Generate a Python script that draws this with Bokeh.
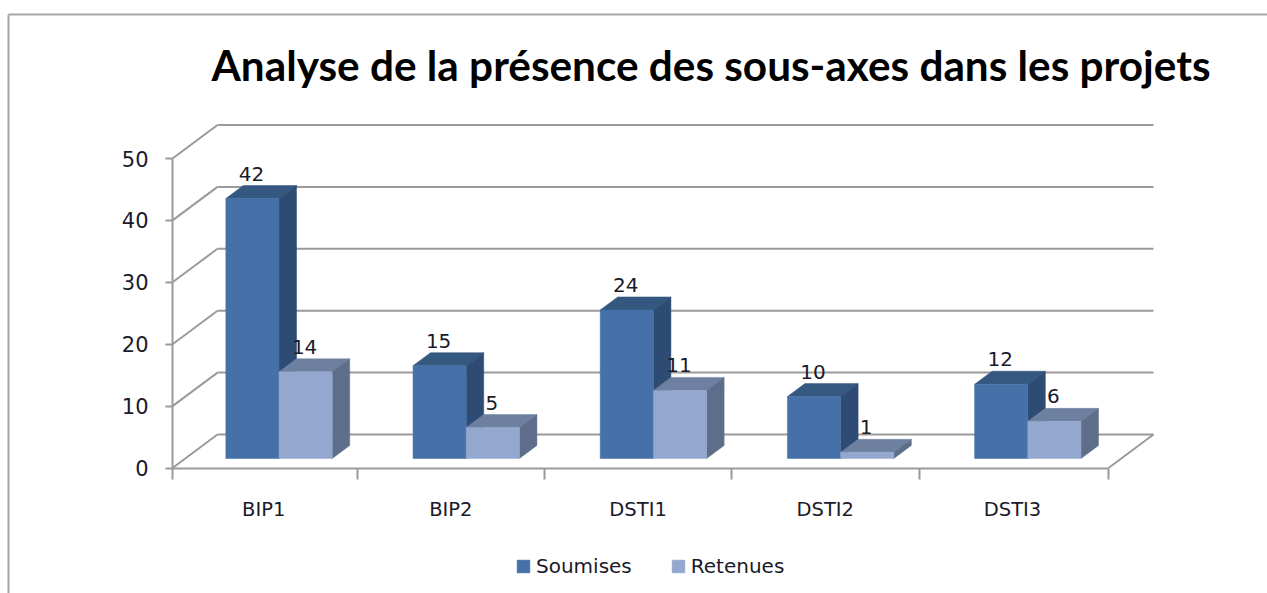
from bokeh.plotting import figure
from bokeh.models import (Range1d, LinearAxis, FixedTicker, Legend, LegendItem,
                          Label, ColumnDataSource)
from bokeh.embed import file_html
from bokeh.resources import INLINE

# ---- data ----
title_text = "Analyse de la présence des sous-axes dans les projets"
categories = ["BIP1", "BIP2", "DSTI1", "DSTI2", "DSTI3"]
soumises = [42, 15, 24, 10, 12]
retenues = [14, 5, 11, 1, 6]
value_ticks = [0, 10, 20, 30, 40, 50]
series_names = ["Soumises", "Retenues"]

# ---- styles ----
C_S = ("#4570a8", "#2d4b73", "#34587f")   # front, side, top
C_R = ("#94a8cf", "#5e6e8a", "#6e80a0")
GRID = "#9a9a9a"
GRID_W = 2
BORDER = "#a6a6a6"
TXT = "#1a1a2a"
FONT = "DejaVu Sans"

# ---- geometry: pseudo-3D depth expressed in data units ----
W, H = 1267, 593
ORIGIN_X, ORIGIN_Y = 172, 467.5            # pixel of category 0 / value 0
CAT_PX, VAL_PX = 187.2, 6.19               # pixels per category / per value unit
WALL_DX, WALL_DY = 45 / CAT_PX, 33.5 / VAL_PX
BAR_DX, BAR_DY = 17.5 / CAT_PX, 13 / VAL_PX
BAR_BASE = 9.5 / VAL_PX
BAR_W = 53.2 / CAT_PX
GROUP_C = 0.569
LABEL_C = 0.487
EDGE_SHIFT = -0.012

n = len(categories)
x_start, x_end = -ORIGIN_X / CAT_PX, (W - ORIGIN_X) / CAT_PX
y_start, y_end = -(H - ORIGIN_Y) / VAL_PX, ORIGIN_Y / VAL_PX
p = figure(width=W, height=H, output_backend="svg", toolbar_location=None,
           x_axis_type=None, y_axis_type=None,
           x_range=Range1d(x_start, x_end), y_range=Range1d(y_start, y_end),
           min_border_left=0, min_border_right=0, min_border_bottom=0, min_border_top=0,
           background_fill_color="white", border_fill_color="white",
           outline_line_color=None)
p.grid.visible = False

# outer frame of the chart
frame_x = x_start + 8 / CAT_PX
frame_y = y_end - 14 / VAL_PX
p.segment(x0=[frame_x, frame_x], x1=[frame_x, x_end], y0=[y_start, frame_y], y1=[frame_y, frame_y],
          line_color=BORDER, line_width=2)

p.add_layout(Label(x=x_start + 211 / CAT_PX, y=y_end - 64 / VAL_PX, text=title_text,
                   text_font="Lato", text_font_style="bold", text_font_size="42.3px",
                   text_color="#000000", text_baseline="alphabetic", text_align="left"))

# back wall gridlines, left wall diagonals, floor edge
wall_right = n + WALL_DX
p.segment(x0=[WALL_DX] * len(value_ticks), x1=[wall_right] * len(value_ticks),
          y0=[v + WALL_DY for v in value_ticks], y1=[v + WALL_DY for v in value_ticks],
          line_color=GRID, line_width=GRID_W)
p.segment(x0=[0] * len(value_ticks), x1=[WALL_DX] * len(value_ticks),
          y0=value_ticks, y1=[v + WALL_DY for v in value_ticks],
          line_color=GRID, line_width=GRID_W)
p.segment(x0=[n], x1=[wall_right], y0=[0], y1=[WALL_DY],
          line_color=GRID, line_width=GRID_W)


def bars(values, shift, colors):
    xl = [i + GROUP_C + shift - BAR_W / 2 for i in range(n)]
    xr = [x + BAR_W for x in xl]
    yt = [v + BAR_BASE for v in values]
    # top face
    p.patches(xs=[[a, b, b + BAR_DX, a + BAR_DX] for a, b in zip(xl, xr)],
              ys=[[t, t, t + BAR_DY, t + BAR_DY] for t in yt],
              fill_color=colors[2], line_color=colors[2], line_width=0.5)
    # side face
    p.patches(xs=[[b, b + BAR_DX, b + BAR_DX, b] for b in xr],
              ys=[[BAR_BASE, BAR_BASE + BAR_DY, t + BAR_DY, t] for t in yt],
              fill_color=colors[1], line_color=colors[1], line_width=0.5)
    # front face
    src = ColumnDataSource(dict(x=[(a + b) / 2 for a, b in zip(xl, xr)], top=yt,
                                bottom=[BAR_BASE] * n))
    return p.vbar(x="x", top="top", bottom="bottom", width=BAR_W, source=src,
                  fill_color=colors[0], line_color=colors[0], line_width=0.5)


r_s = bars(soumises, -BAR_W / 2, C_S)
r_r = bars(retenues, BAR_W / 2, C_R)

# value labels
for values, shift in ((soumises, -BAR_W / 2), (retenues, BAR_W / 2)):
    src = ColumnDataSource(dict(x=[i + GROUP_C + shift - 1 / CAT_PX for i in range(n)],
                                y=[v + BAR_BASE + BAR_DY for v in values],
                                t=[str(v) for v in values]))
    p.text(x="x", y="y", text="t", source=src, text_align="center",
           text_baseline="middle", y_offset=-12, text_font={"value": FONT},
           text_font_size={"value": "20px"}, text_color=TXT)

# value axis
ya = LinearAxis(ticker=FixedTicker(ticks=value_ticks), bounds=(0, value_ticks[-1]),
                fixed_location=0)
ya.axis_line_color = GRID
ya.axis_line_width = GRID_W
ya.major_tick_line_color = GRID
ya.major_tick_line_width = GRID_W
ya.major_tick_in = 0
ya.major_tick_out = 7
ya.minor_tick_line_color = None
ya.major_label_standoff = 17
ya.major_label_text_font = FONT
ya.major_label_text_font_size = "21px"
ya.major_label_text_color = TXT
p.add_layout(ya, "left")

# category boundary ticks
edges = [0] + [i + EDGE_SHIFT for i in range(1, n)] + [n]
xa = LinearAxis(ticker=FixedTicker(ticks=edges), bounds=(0, n), fixed_location=0)
xa.axis_line_color = GRID
xa.axis_line_width = GRID_W
xa.major_tick_line_color = GRID
xa.major_tick_line_width = GRID_W
xa.major_tick_in = 0
xa.major_tick_out = 11
xa.minor_tick_line_color = None
xa.major_label_text_color = None
xa.major_label_text_font_size = "1px"
xa.major_label_standoff = 0
p.add_layout(xa, "below")

# category names
label_pos = [round(i + LABEL_C, 3) for i in range(n)]
xb = LinearAxis(ticker=FixedTicker(ticks=label_pos), fixed_location=0,
                major_label_overrides=dict(zip(label_pos, categories)))
xb.axis_line_color = None
xb.major_tick_line_color = None
xb.minor_tick_line_color = None
xb.major_label_standoff = 24
xb.major_label_text_font = FONT
xb.major_label_text_font_size = "19.5px"
xb.major_label_text_color = TXT
p.add_layout(xb, "below")

legend = Legend(items=[LegendItem(label=series_names[0], renderers=[r_s]),
                       LegendItem(label=series_names[1], renderers=[r_r])],
                orientation="horizontal", location=(515, 15),
                background_fill_alpha=0, border_line_color=None,
                glyph_width=16, glyph_height=16, label_standoff=5, spacing=38,
                padding=0, margin=0,
                label_text_font=FONT, label_text_font_size="20px", label_text_color=TXT)
p.add_layout(legend, "center")

open("out.html", "w").write(file_html(p, INLINE))
